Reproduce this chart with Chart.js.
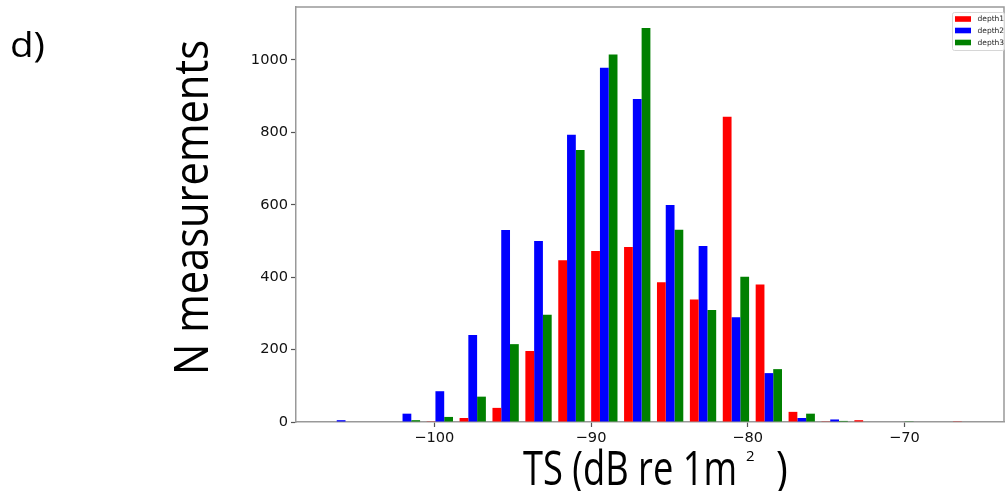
<!DOCTYPE html>
<html>
<head>
<meta charset="utf-8">
<script src="https://cdn.jsdelivr.net/npm/chart.js@4.4.1/dist/chart.umd.min.js"></script>
<style>
    html, body { margin: 0; padding: 0; background: #fff; }
    #wrap { width: 1005px; height: 491px; position: relative; }
</style>
</head>
<body>
<div id="wrap"><canvas id="tsChart"></canvas></div>
<script>
// histogram bins (centre of each 2.1 dB bin)
const binCenters = [-105.95, -103.85, -101.75, -99.65, -97.55, -95.45, -93.35, -91.25, -89.15, -87.05,
                    -84.95, -82.85, -80.75, -78.65, -76.55, -74.45, -72.35, -70.25, -68.15, -66.05];

const depth1 = [0, 0, 0, 2, 11, 39, 196, 447, 472, 483, 386, 338, 843, 380, 28, 2, 5, 0, 0, 2];
const depth2 = [5, 0, 23, 85, 240, 530, 500, 793, 978, 892, 599, 486, 289, 135, 11, 7, 0, 0, 0, 0];
const depth3 = [0, 0, 5, 14, 70, 215, 296, 751, 1015, 1088, 531, 309, 401, 146, 23, 3, 0, 2, 0, 0];

const seriesLabels = ["depth1", "depth2", "depth3"];
const seriesColors = ["#ff0000", "#0000ff", "#008000"];

const xTicks = [-100, -90, -80, -70];
const yTicks = [0, 200, 400, 600, 800, 1000];
const xRange = [-108.83, -63.64];
const yRange = [0, 1146];

const panelLabel = "d)";
const yTitle = "N measurements";
const xTitle = "TS (dB re 1m";
const xTitleSup = "2";
const xTitleEnd = ")";

const titleFont = '"Open Sans", sans-serif';

function toPoints(values) {
    return binCenters.map((x, i) => ({ x: x, y: values[i] }));
}

function fmtTick(v) {
    return v < 0 ? "\u2212" + Math.abs(v) : String(v);
}

// no extra room for the tick labels, the frame is fixed
function noPad(scale) {
    scale.paddingTop = 0;
    scale.paddingBottom = 0;
    scale.paddingLeft = 0;
    scale.paddingRight = 0;
}

// draws text squeezed/stretched to a given width
function fitText(ctx, text, x, y, width) {
    const w = ctx.measureText(text).width;
    ctx.save();
    ctx.translate(x, y);
    ctx.scale(width / w, 1);
    ctx.fillText(text, 0, 0);
    ctx.restore();
    return width / w;
}

// frame, legend and the big titles
const decorPlugin = {
    id: "decor",
    afterDraw(chart) {
        const ctx = chart.ctx;
        const a = chart.chartArea;

        ctx.save();
        ctx.strokeStyle = "#999";
        ctx.lineWidth = 1.5;
        ctx.beginPath();
        ctx.moveTo(a.left, a.top);
        ctx.lineTo(a.right, a.top);
        ctx.lineTo(a.right, a.bottom);
        ctx.stroke();
        ctx.restore();

        // legend
        ctx.save();
        const lx = 952.5, ly = 12.5, lw = 52, lh = 38;
        ctx.fillStyle = "rgba(255,255,255,0.8)";
        ctx.strokeStyle = "#d6d6d6";
        ctx.lineWidth = 1;
        ctx.beginPath();
        ctx.roundRect(lx, ly, lw, lh, 2);
        ctx.fill();
        ctx.stroke();
        ctx.font = "7.5px 'DejaVu Sans'";
        ctx.textBaseline = "middle";
        const rows = [19, 30.5, 42.5];
        chart.data.datasets.forEach((ds, i) => {
            ctx.fillStyle = ds.backgroundColor;
            ctx.fillRect(955, rows[i] - 2.8, 16, 5.6);
            ctx.fillStyle = "#222";
            ctx.fillText(ds.label, 977.5, rows[i] + 0.5);
        });
        ctx.restore();

        ctx.save();
        ctx.fillStyle = "#000";
        ctx.textBaseline = "alphabetic";

        // panel label
        ctx.font = "35px " + titleFont;
        fitText(ctx, panelLabel, 10, 57, 35);

        // y title
        ctx.save();
        ctx.font = "48px " + titleFont;
        ctx.translate(208, 207.5);
        ctx.rotate(-Math.PI / 2);
        fitText(ctx, yTitle, -167.5, 0, 335);
        ctx.restore();

        // x title
        ctx.font = "48px " + titleFont;
        const sx = fitText(ctx, xTitle, 523, 485, 214);
        ctx.save();
        ctx.translate(776, 485);
        ctx.scale(sx * 1.1, 1);
        ctx.fillText(xTitleEnd, 0, 0);
        ctx.restore();
        ctx.font = "15px " + titleFont;
        ctx.fillText(xTitleSup, 746, 461);
        ctx.restore();
    }
};

function renderChart() {
    const ctx = document.getElementById("tsChart");
    const series = [depth1, depth2, depth3];

    new Chart(ctx, {
        type: "bar",
        data: {
            datasets: series.map((vals, i) => ({
                label: seriesLabels[i],
                data: toPoints(vals),
                backgroundColor: seriesColors[i],
                borderWidth: 0,
                categoryPercentage: 0.8,
                barPercentage: 1.0
            }))
        },
        options: {
            responsive: true,
            maintainAspectRatio: false,
            animation: false,
            layout: { padding: { left: 0, top: 7, right: 1, bottom: 0 } },
            plugins: {
                legend: { display: false },
                tooltip: { enabled: false }
            },
            scales: {
                x: {
                    type: "linear",
                    offset: false,
                    min: xRange[0],
                    max: xRange[1],
                    afterBuildTicks: scale => { scale.ticks = xTicks.map(v => ({ value: v })); },
                    afterFit: scale => { scale.height = 69; noPad(scale); },
                    grid: { offset: false, drawOnChartArea: false, tickLength: 5, tickColor: "#555", tickWidth: 1.2 },
                    border: { color: "#999", width: 1.5 },
                    ticks: {
                        callback: v => fmtTick(v),
                        color: "#111",
                        font: { family: "DejaVu Sans", size: 14.6 },
                        padding: 2,
                        maxRotation: 0
                    }
                },
                y: {
                    min: yRange[0],
                    max: yRange[1],
                    afterBuildTicks: scale => { scale.ticks = yTicks.map(v => ({ value: v })); },
                    afterFit: scale => { scale.width = 296; noPad(scale); },
                    grid: { offset: false, drawOnChartArea: false, tickLength: 5, tickColor: "#555", tickWidth: 1.2 },
                    border: { color: "#999", width: 1.5 },
                    ticks: {
                        callback: v => fmtTick(v),
                        color: "#111",
                        font: { family: "DejaVu Sans", size: 14.6 },
                        padding: 3
                    }
                }
            }
        },
        plugins: [decorPlugin]
    });
}

renderChart();
</script>
</body>
</html>
